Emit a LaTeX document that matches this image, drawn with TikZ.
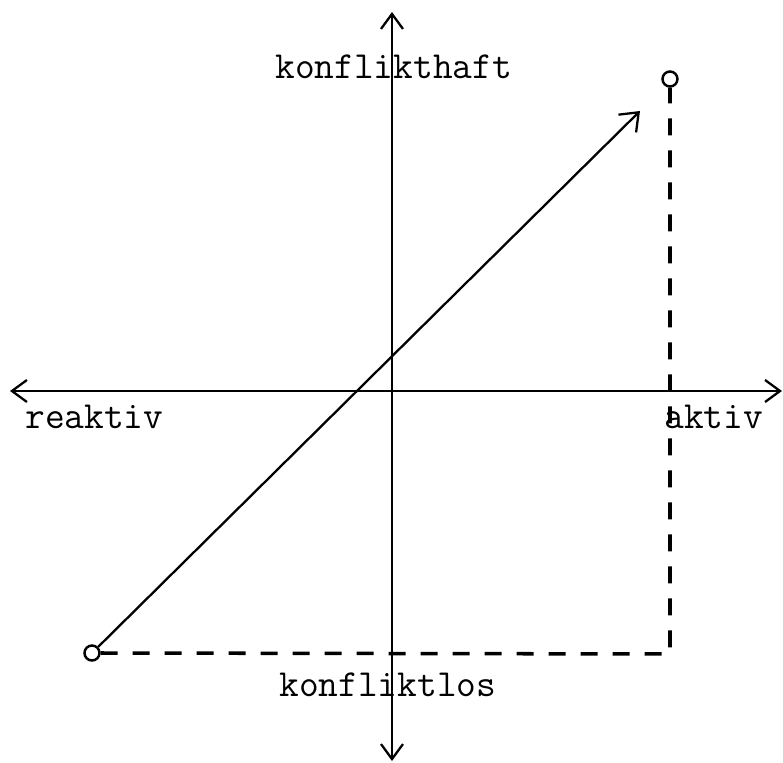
\documentclass[tikz,border=0pt]{standalone}
\usepackage{tikz}
\usetikzlibrary{arrows.meta,positioning}

\begin{document}
\begin{tikzpicture}[
    x=1cm,y=1cm,
    axis/.style={line width=1.3pt, {Straight Barb[length=0.3cm,width=0.44cm,line width=1.3pt]}-{Straight Barb[length=0.3cm,width=0.44cm,line width=1.3pt]}},
    trend/.style={line width=1.3pt, -{Straight Barb[length=0.32cm,width=0.5cm,line width=1.3pt]}},
    guide/.style={line width=2pt, dash pattern=on 0.34cm off 0.3cm},
    pole/.style={circle, draw, line width=1.4pt, minimum size=0.3cm, inner sep=0pt},
    label/.style={font=\ttfamily\fontsize{21.8}{25}\selectfont, inner sep=0pt, anchor=base west}
  ]
    \useasboundingbox (-7.84,-7.44) rectangle (7.82,7.82);
    % axes
    \coordinate (top) at (0,7.58);
    \coordinate (bottom) at (0,-7.40);
    \coordinate (left) at (-7.64,0);
    \coordinate (right) at (7.80,0);
    \draw[axis] (bottom) -- (top);
    \draw[axis] (left) -- (right);
    % poles and path
    \node[pole] (start) at (-6.00,-5.24) {};
    \node[pole] (goal) at (5.56,6.24) {};
    \coordinate (corner) at (5.56,-5.26);
    \coordinate (tip) at (4.96,5.60);
    \draw[trend] (start) -- (tip);
    \draw[guide] (start.east) -- (corner) -- (goal.south);
    % labels
    \node[label] (hi) at (-2.34,6.26) {konflikthaft};
    \node[label] (lo) at (-2.26,-6.10) {konfliktlos};
    \node[label] (re) at (-7.34,-0.74) {reaktiv};
    \node[label] (ak) at (5.44,-0.74) {aktiv};
  \end{tikzpicture}
\end{document}
